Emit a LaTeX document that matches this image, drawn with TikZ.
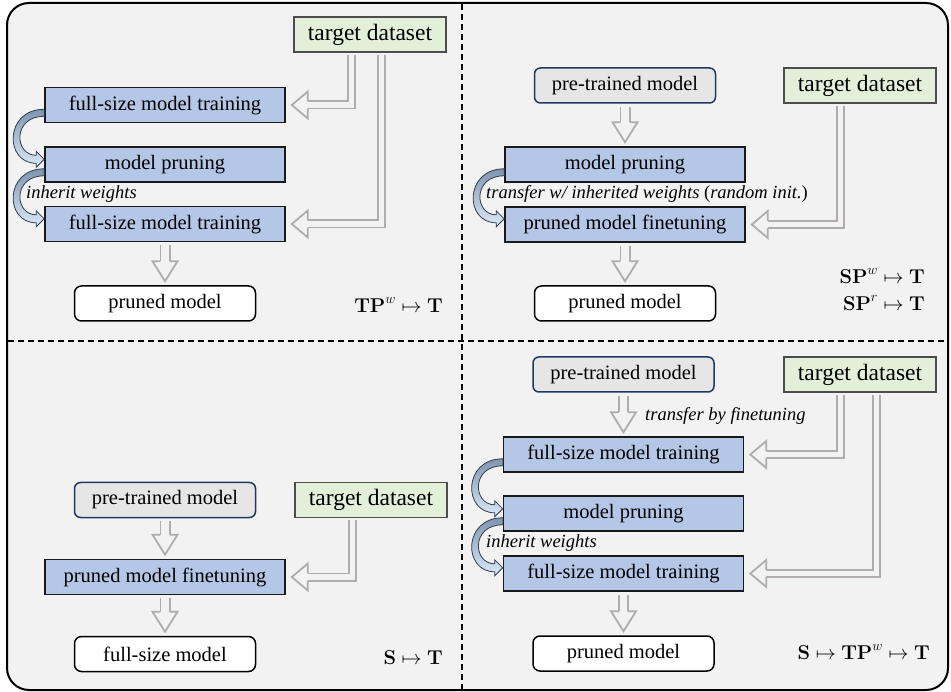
\documentclass[tikz,border=0pt]{standalone}
\usepackage{fix-cm}
\usepackage[no-math]{fontspec}
\setmainfont{Liberation Serif}
\usepackage{amsmath}
\usepackage{tikz}
\usetikzlibrary{arrows.meta,calc,positioning}
\definecolor{panelbg}{HTML}{F2F2F2}
\definecolor{stageblue}{HTML}{B4C7E7}
\definecolor{datagreen}{HTML}{E2F0D9}
\definecolor{pregray}{HTML}{E7E6E6}
\definecolor{navy}{HTML}{1F3864}
\definecolor{feedgray}{HTML}{B0ACAC}
\definecolor{benddark}{HTML}{7F95AE}
\definecolor{bendlight}{HTML}{DCEAF7}
\definecolor{bendline}{HTML}{2E3D52}

\tikzset{
  stage/.style={draw=black!90, line width=1.6pt, fill=stageblue, minimum width=240pt, minimum height=35pt, inner sep=0pt},
  data/.style={draw=black!70, line width=1.2pt, fill=datagreen, minimum width=152pt, minimum height=35pt, inner sep=0pt, font=\fontsize{23.5}{28}\selectfont},
  pretrained/.style={draw=navy, line width=1.5pt, fill=pregray, rounded corners=6pt, minimum width=181pt, minimum height=35pt, inner sep=0pt},
  result/.style={draw=black, line width=1.5pt, fill=white, rounded corners=7pt, minimum width=181pt, minimum height=35pt, inner sep=0pt},
  note/.style={font=\fontsize{18.5}{22}\selectfont\itshape, inner sep=0pt, anchor=west},
  scheme/.style={font=\fontsize{20}{27}\selectfont, inner sep=0pt, anchor=east, align=right},
  feed/.style={draw=feedgray, line width=1.8pt, double=panelbg, double distance=5.4pt, line join=miter},
  drop/.style={feed, double distance=7.4pt},
  headL/.pic={\filldraw[draw=feedgray, fill=panelbg, line width=1.8pt, line join=miter]
    (16,-3.6) -- (16,-13.5) -- (0,0) -- (16,13.5) -- (16,3.6);},
  headD/.pic={\filldraw[draw=feedgray, fill=panelbg, line width=1.8pt, line join=miter]
    (-4.6,-20) -- (-12.5,-20) -- (0,0) -- (12.5,-20) -- (4.6,-20);},
  bend/.pic={\shadedraw[top color=benddark, bottom color=bendlight, draw=bendline, line width=0.8pt]
    (0,0) .. controls (-40,0) and (-40,54) .. (-8,54) -- (-8,58) -- (0,50) -- (-8,42) -- (-8,46)
    .. controls (-30,46) and (-32,7) .. (0,7) -- cycle;},
}

\begin{document}
\begin{tikzpicture}[x=1pt,y=-1pt,font=\fontsize{20.5}{24}\selectfont]
  \useasboundingbox (0,0) rectangle (951,692);
  \draw[rounded corners=22pt, fill=panelbg, line width=2pt] (7,3) rectangle (948,690);
  \draw[dashed, dash pattern=on 6pt off 4pt, line width=1.1pt] (462,4) -- (462,689);
  \draw[dashed, dash pattern=on 6pt off 4pt, line width=1.1pt] (8,341) -- (947,341);

  % top left
  \node[data] (tdA) at (370,34.5) {target dataset};
  \node[stage] (ftA1) at (165,105) {full-size model training};
  \node[stage] (mpA) at (165,164.5) {model pruning};
  \node[stage] (ftA2) at (165,224) {full-size model training};
  \node[result] (pmA) at (165,303.5) {pruned model};
  \node[note] (iwA) at (26,194) {inherit weights};
  \node[scheme] (labA) at (443,305) {$\mathbf{TP}^w\mapsto\mathbf{T}$};

  % top right
  \node[pretrained] (ptB) at (625,85.5) {pre-trained model};
  \node[data] (tdB) at (860,85.5) {target dataset};
  \node[stage] (mpB) at (625,164.5) {model pruning};
  \node[stage] (pfB) at (625,224.5) {pruned model finetuning};
  \node[result] (pmB) at (625,303.5) {pruned model};
  \node[note] (twB) at (486,194) {transfer w/ inherited weights \textup{(}random init.\textup{)}};
  \node[scheme] (labB) at (925,289.5) {$\mathbf{SP}^w\mapsto\mathbf{T}$\\$\mathbf{SP}^r\mapsto\mathbf{T}$};

  % bottom left
  \node[pretrained] (ptC) at (165,500) {pre-trained model};
  \node[data] (tdC) at (371,500) {target dataset};
  \node[stage] (pfC) at (165,577) {pruned model finetuning};
  \node[result] (fmC) at (165,654) {full-size model};
  \node[scheme] (labC) at (443,658) {$\mathbf{S}\mapsto\mathbf{T}$};

  % bottom right
  \node[pretrained] (ptD) at (623.5,374.5) {pre-trained model};
  \node[data] (tdD) at (860,374.5) {target dataset};
  \node[stage] (ftD1) at (623.5,454.5) {full-size model training};
  \node[stage] (mpD) at (623.5,513.5) {model pruning};
  \node[stage] (ftD2) at (623.5,573.5) {full-size model training};
  \node[result] (pmD) at (623.5,653.5) {pruned model};
  \node[note] (tfD) at (645,416) {transfer by finetuning};
  \node[note] (iwD) at (486,543) {inherit weights};
  \node[scheme] (labD) at (930,652) {$\mathbf{S}\mapsto\mathbf{TP}^w\mapsto\mathbf{T}$};

  % data feeds
  \draw[feed] ([xshift=-18.5pt,yshift=-2pt]tdA.south) |- ([xshift=20pt]ftA1.east);
  \pic at ([xshift=6pt]ftA1.east) {headL};
  \draw[feed] ([xshift=11.5pt,yshift=-2pt]tdA.south) |- ([xshift=20pt]ftA2.east);
  \pic at ([xshift=6pt]ftA2.east) {headL};
  \draw[feed] ([xshift=-19.5pt,yshift=-2pt]tdB.south) |- ([xshift=20pt]pfB.east);
  \pic at ([xshift=6pt]pfB.east) {headL};
  \draw[feed] ([xshift=-18.5pt,yshift=-2pt]tdC.south) |- ([xshift=20pt]pfC.east);
  \pic at ([xshift=6pt]pfC.east) {headL};
  \draw[feed] ([xshift=-19.5pt,yshift=-2pt]tdD.south) |- ([xshift=20pt]ftD1.east);
  \pic at ([xshift=6pt]ftD1.east) {headL};
  \draw[feed] ([xshift=16.5pt,yshift=-2pt]tdD.south) |- ([xshift=20pt]ftD2.east);
  \pic at ([xshift=6pt]ftD2.east) {headL};

  % downward steps
  \foreach \a/\b in {ftA2/pmA, ptB/mpB, pfB/pmB, ptC/pfC, pfC/fmC, ptD/ftD1, ftD2/pmD} {
    \draw[drop] ([yshift=-3pt]\a.south) -- ([yshift=22pt]\b.north);
    \pic at ([yshift=4pt]\b.north) {headD};
  }

  % weight hand-over
  \foreach \a in {ftA1, mpA, mpB, ftD1, mpD}
    \pic at ([yshift=14pt]\a.south west) {bend};
\end{tikzpicture}
\end{document}
